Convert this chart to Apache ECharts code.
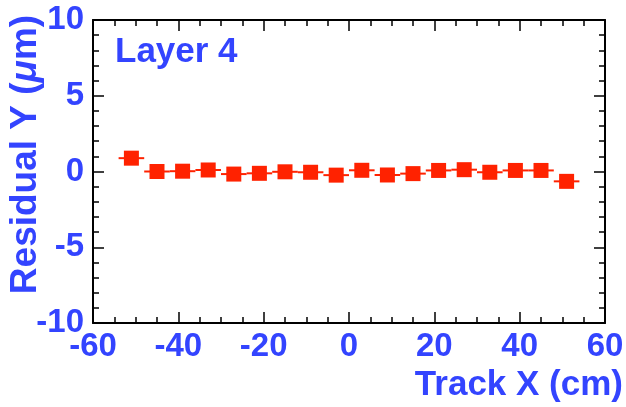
<!DOCTYPE html>
<html>
<head>
<meta charset="utf-8">
<script src="https://cdn.jsdelivr.net/npm/echarts@6/dist/echarts.min.js"></script>
<style>
html,body{margin:0;padding:0;background:#fff;}
#c{width:626px;height:407px;}
</style>
</head>
<body>
<div id="c"></div>
<script>
// Data
var trackX = [-51, -45, -39, -33, -27, -21, -15, -9, -3, 3, 9, 15, 21, 27, 33, 39, 45, 51];
var residualY = [0.88, 0.0, 0.02, 0.1, -0.17, -0.12, -0.02, -0.05, -0.24, 0.08, -0.23, -0.14, 0.07, 0.12, -0.05, 0.07, 0.07, -0.65];
var xErr = [3, 3, 3, 3, 3, 3, 3, 3, 3, 3, 3, 3, 3, 3, 3, 3, 3, 3];
var xTicks = [-60, -40, -20, 0, 20, 40, 60];
var yTicks = [-10, -5, 0, 5, 10];
var labelText = 'Layer 4';

var BLUE = '#3344ff';
var RED = '#ff2200';
var FONT = '"Liberation Sans", Arial, Helvetica, sans-serif';

var pts = trackX.map(function (x, i) { return [x, residualY[i], xErr[i]]; });

var chart = echarts.init(document.getElementById('c'), null, {renderer: 'canvas'});

function axisCommon(extra) {
  return Object.assign({
    type: 'value',
    axisLine: {show: true, onZero: false, lineStyle: {color: '#000', width: 2}},
    axisTick: {show: true, inside: true, length: 11, lineStyle: {color: '#000', width: 1.5}},
    minorTick: {show: true, length: 6, lineStyle: {color: '#000', width: 1.5}},
    splitLine: {show: false},
    minorSplitLine: {show: false}
  }, extra);
}

var option = {
  animation: false,
  backgroundColor: '#fff',
  title: {
    text: labelText,
    left: 110,
    top: 30,
    textStyle: {color: BLUE, fontFamily: FONT, fontWeight: 'bold', fontSize: 35}
  },
  grid: {left: 93, right: 21, top: 20, bottom: 84, containLabel: false, outerBoundsMode: 'none'},
  xAxis: [
    axisCommon({
      position: 'bottom',
      min: xTicks[0], max: xTicks[xTicks.length - 1], interval: 20,
      minorTick: {show: true, splitNumber: 4, length: 6, lineStyle: {color: '#000', width: 1.5}},
      axisLabel: {show: true, color: BLUE, fontFamily: FONT, fontWeight: 'bold', fontSize: 33, margin: 7},
      name: 'Track X (cm)',
      nameLocation: 'end',
      nameGap: 18,
      nameMoveOverlap: false,
      nameTextStyle: {color: BLUE, fontFamily: FONT, fontWeight: 'bold', fontSize: 35,
        align: 'right', verticalAlign: 'top', padding: [45, 0, 0, 0]}
    }),
    axisCommon({
      position: 'top',
      min: xTicks[0], max: xTicks[xTicks.length - 1], interval: 20,
      minorTick: {show: true, splitNumber: 4, length: 6, lineStyle: {color: '#000', width: 1.5}},
      axisLabel: {show: false}
    })
  ],
  yAxis: [
    axisCommon({
      position: 'left',
      min: yTicks[0], max: yTicks[yTicks.length - 1], interval: 5,
      minorTick: {show: true, splitNumber: 5, length: 6, lineStyle: {color: '#000', width: 1.5}},
      axisLabel: {show: true, color: BLUE, fontFamily: FONT, fontWeight: 'bold', fontSize: 33, margin: 9},
      name: 'Residual Y ({i|μ}m)',
      nameLocation: 'middle',
      nameGap: 49,
      nameMoveOverlap: false,
      nameTextStyle: {color: BLUE, fontFamily: FONT, fontWeight: 'bold', fontSize: 37,
        padding: [0, 0, 0, 34],
        rich: {i: {color: BLUE, fontFamily: FONT, fontWeight: 'bold', fontStyle: 'italic', fontSize: 37}}}
    }),
    axisCommon({
      position: 'right',
      min: yTicks[0], max: yTicks[yTicks.length - 1], interval: 5,
      minorTick: {show: true, splitNumber: 5, length: 6, lineStyle: {color: '#000', width: 1.5}},
      axisLabel: {show: false}
    })
  ],
  series: [
    {
      type: 'custom',
      xAxisIndex: 0, yAxisIndex: 0,
      data: pts,
      z: 2,
      renderItem: function (params, api) {
        var x = api.value(0), y = api.value(1), ex = api.value(2);
        var p1 = api.coord([x - ex, y]);
        var p2 = api.coord([x + ex, y]);
        return {
          type: 'line',
          shape: {x1: p1[0], y1: p1[1], x2: p2[0], y2: p2[1]},
          style: {stroke: RED, lineWidth: 2}
        };
      }
    },
    {
      type: 'scatter',
      xAxisIndex: 0, yAxisIndex: 0,
      data: pts,
      symbol: 'rect',
      symbolSize: 15,
      z: 3,
      itemStyle: {color: RED, opacity: 1}
    }
  ]
};
chart.setOption(option);
</script>
</body>
</html>
